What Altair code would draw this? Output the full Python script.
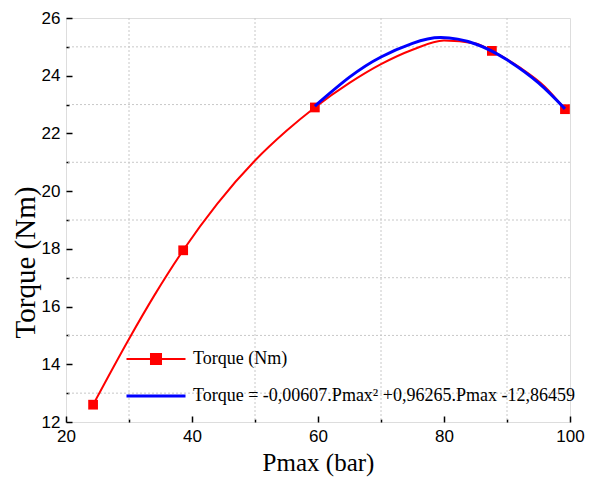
import altair as alt
import pandas as pd

pmax = [24.3, 38.6, 59.5, 87.6, 99.2]
torque = [12.6, 17.95, 22.9, 24.86, 22.84]

# Smooth red curve through the points
curve_pmax = [24.3, 30, 34, 38.6, 44, 50, 55, 59.5, 65, 70, 75, 80, 85, 87.6, 92, 96, 99.2]
curve_torque = [12.6, 14.88, 16.38, 17.95, 19.56, 21.06, 22.09, 22.9, 23.75, 24.4, 24.9, 25.22, 25.12,
                24.86, 24.29, 23.62, 22.84]

# Quadratic fit curve
fit_pmax = [59.5, 65, 70, 75, 79.5, 85, 90, 95, 99.2]
fit_torque = [22.95, 23.95, 24.65, 25.12, 25.32, 25.1, 24.55, 23.75, 22.85]

series_names = ["Torque (Nm)", "Torque = -0,00607.Pmax\u00b2 +0,96265.Pmax -12,86459"]
series_colors = ["#ff0000", "#0000ff"]
legend_shapes = ["M-1,0H1M-0.17,-0.17H0.17V0.17H-0.17Z", "M-1,0H1"]
legend_widths = [2, 3]

x_ticks = list(range(20, 101, 10))
y_ticks = list(range(12, 27))
x_grid = [30, 50, 70, 90]
y_grid = [13, 15, 17, 19, 21, 23, 25]

meas = pd.DataFrame({"Pmax": pmax, "Torque": torque})
curve = pd.DataFrame({"Pmax": curve_pmax, "Torque": curve_torque})
fit = pd.DataFrame({"Pmax": fit_pmax, "Torque": fit_torque})
xg = pd.DataFrame({"Pmax": x_grid})
yg = pd.DataFrame({"Torque": y_grid})

common_axis = dict(
    domain=False, offset=-6, tickSize=6, tickColor="black", tickWidth=1.5,
    grid=False,
    labelFont="Liberation Sans", labelFontSize=17, labelColor="black",
    labelPadding=6, labelFlush=False, labelOverlap=False,
    titleFont="Liberation Serif", titleFontWeight="normal", titleColor="black",
)

x_axis = alt.Axis(
    title="Pmax (bar)", values=x_ticks,
    labelExpr="datum.value % 20 === 0 ? datum.label : ''",
    tickDash={"condition": {"test": "datum.value % 20 !== 0", "value": [0, 3, 3]}, "value": [6, 0]},
    titleFontSize=25, titlePadding=6,
    **common_axis,
)
y_axis = alt.Axis(
    title="Torque (Nm)", values=y_ticks,
    labelExpr="datum.value % 2 === 0 ? datum.label : ''",
    tickDash={"condition": {"test": "datum.value % 2 !== 0", "value": [0, 3, 3]}, "value": [6, 0]},
    titleFontSize=29, titleX=-47, titleY=244, titleBaseline="middle",
    **common_axis,
)

xs = alt.Scale(domain=[20, 100], nice=False, zero=False)
ys = alt.Scale(domain=[12, 26], nice=False, zero=False)
X = alt.X("Pmax:Q", scale=xs, axis=x_axis)
Y = alt.Y("Torque:Q", scale=ys, axis=y_axis)

grid_style = dict(color="#c8c8c8", strokeDash=[2, 2], strokeWidth=1)
x_grid_layer = alt.Chart(xg).mark_rule(**grid_style).encode(x=alt.X("Pmax:Q", scale=xs, axis=x_axis))
y_grid_layer = alt.Chart(yg).mark_rule(**grid_style).encode(y=alt.Y("Torque:Q", scale=ys, axis=y_axis))

red_line = alt.Chart(curve).mark_line(color="#ff0000", strokeWidth=2, interpolate="monotone").encode(x=X, y=Y)
red_pts = alt.Chart(meas).mark_point(shape="square", filled=True, size=95, color="#ff0000", opacity=1).encode(x=X, y=Y)
blue_line = alt.Chart(fit).mark_line(color="#0000ff", strokeWidth=3, interpolate="natural").encode(x=X, y=Y)

leg = alt.Legend(
    title=None, orient="none", legendX=59, legendY=326, direction="vertical",
    labelFont="Liberation Serif", labelFontSize=18, labelColor="black", labelLimit=600,
    labelOffset=6, symbolSize=3481, clipHeight=30, rowPadding=7, padding=0,
)

legend_layer = alt.Chart(meas).transform_filter("datum.Pmax < 0").transform_calculate(
    series="'x'"
).mark_point(filled=True, opacity=1).encode(
    x=X, y=Y,
    fill=alt.Fill("series:N", scale=alt.Scale(domain=series_names, range=series_colors), legend=leg),
    stroke=alt.Stroke("series:N", scale=alt.Scale(domain=series_names, range=series_colors), legend=leg),
    shape=alt.Shape("series:N", scale=alt.Scale(domain=series_names, range=legend_shapes), legend=leg),
    strokeWidth=alt.StrokeWidth("series:N", scale=alt.Scale(domain=series_names, range=legend_widths), legend=leg),
)

chart = alt.layer(x_grid_layer, y_grid_layer, red_line, red_pts, blue_line, legend_layer).properties(
    width=504, height=404,
    padding={"left": 58, "top": 10, "right": 16, "bottom": 55},
    autosize=alt.AutoSizeParams(type="none"),
).configure_view(stroke="black", strokeWidth=2).configure(background="white")

chart.save("out.html", embed_options={"renderer": "svg", "actions": False})
